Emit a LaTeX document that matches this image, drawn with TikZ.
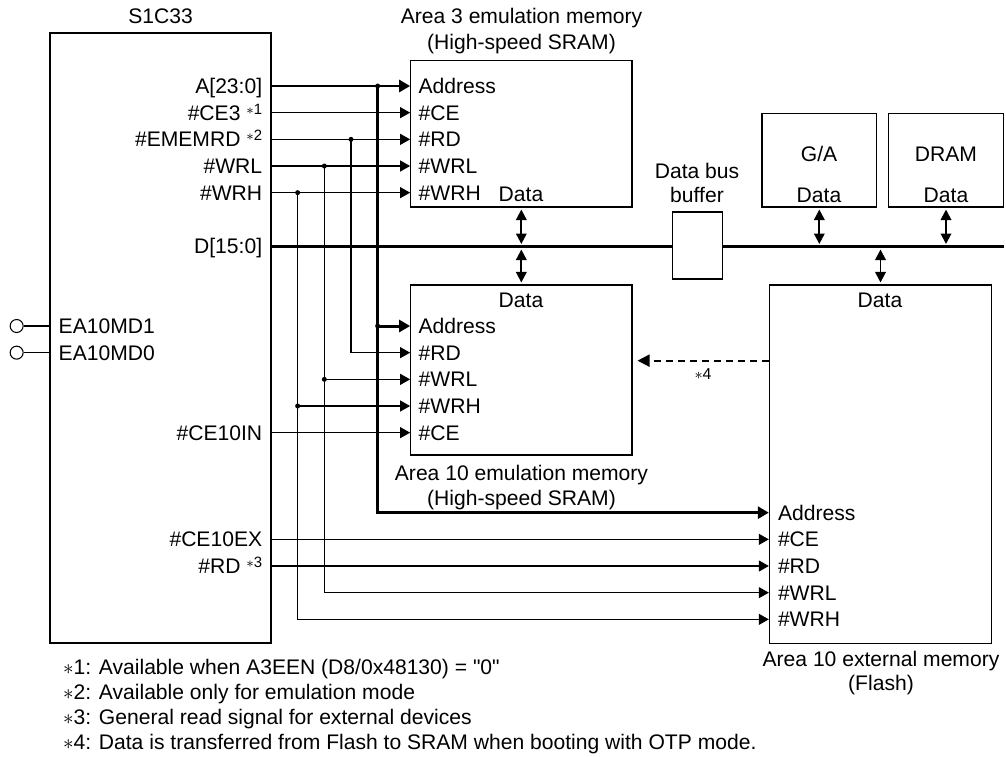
\documentclass[tikz,border=0pt]{standalone}
\usepackage{fontspec}
\setmainfont{Liberation Sans}
\newfontfamily\qfont{Liberation Sans}
\usepackage{tikz}
\usetikzlibrary{arrows.meta,calc,positioning}

\newcommand{\fnmark}[1]{\raisebox{3.4pt}{\fontsize{8.5}{10}\selectfont$\ast$#1}}
\newcommand{\notesz}{\fontsize{9}{10}\selectfont}

\tikzset{
  lbl/.style={inner sep=0pt, text height=0.3cm, text depth=0pt},
  blk/.style={draw, line width=0.6pt, inner sep=0pt},
  pinc/.style={circle, draw, line width=0.6pt, text height=0pt, minimum size=0.26cm},
  sig/.style={line width=0.6pt, -{Triangle[length=0.2cm,width=0.22cm]}},
  bus/.style={line width=1.7pt},
  busarr/.style={bus, -{Triangle[length=0.22cm,width=0.24cm]}},
  dbl/.style={line width=1.1pt, {Triangle[length=0.21cm,width=0.21cm]}-{Triangle[length=0.21cm,width=0.21cm]}},
}

\begin{document}
\begin{tikzpicture}[font=\fontsize{12}{14}\selectfont, every node/.style={lbl}]
  \useasboundingbox (0,0) rectangle (20.12,-15.12);

  % S1C33 chip
  \node[blk, minimum width=4.42cm, minimum height=12.2cm] (chip) at (3.21,-6.76) {};
  \node (chipt) at (3.21,-0.32) {S1C33};

  % chip pins, right side
  \node[anchor=east] (pA) at (5.25,-1.72) {A[23:0]};
  \node[anchor=east] (pCE3) at (5.25,-2.253) {\#CE3 \fnmark{1}};
  \node[anchor=east] (pEMRD) at (5.25,-2.787) {\#EMEMRD \fnmark{2}};
  \node[anchor=east] (pWRL) at (5.25,-3.32) {\#WRL};
  \node[anchor=east] (pWRH) at (5.25,-3.853) {\#WRH};
  \node[anchor=east] (pD) at (5.25,-4.92) {D[15:0]};
  \node[anchor=east] (pCEIN) at (5.25,-8.653) {\#CE10IN};
  \node[anchor=east] (pCEEX) at (5.25,-10.787) {\#CE10EX};
  \node[anchor=east] (pRD) at (5.25,-11.32) {\#RD \fnmark{3}};

  % chip pins, left side (mode inputs)
  \node[anchor=west] (pMD1) at (1.167,-6.52) {EA10MD1};
  \node[anchor=west] (pMD0) at (1.167,-7.053) {EA10MD0};
  \node[pinc] (cMD1) at (0.333,-6.52) {};
  \node[pinc] (cMD0) at (0.333,-7.053) {};
  \draw[line width=0.6pt] (cMD1) -- (chip.west |- cMD1);
  \draw[line width=0.6pt] (cMD0) -- (chip.west |- cMD0);

  % Area 3 emulation memory
  \node[blk, minimum width=4.427cm, minimum height=2.927cm] (a3) at (10.4265,-2.6765) {};
  \node (a3t1) at (10.43,-0.32) {Area 3 emulation memory};
  \node (a3t2) at (10.43,-0.84) {(High-speed SRAM)};
  \node[anchor=west] (a3A) at (8.366,-1.72) {Address};
  \node[anchor=west] (a3CE) at (8.366,-2.253) {\#CE};
  \node[anchor=west] (a3RD) at (8.366,-2.787) {\#RD};
  \node[anchor=west] (a3WRL) at (8.366,-3.32) {\#WRL};
  \node[anchor=west] (a3WRH) at (8.366,-3.853) {\#WRH};
  \node (a3D) at (10.42,-3.87) {Data};

  % Area 10 emulation memory
  \node[blk, minimum width=4.427cm, minimum height=3.4cm] (a10) at (10.4265,-7.4) {};
  \node (a10D) at (10.42,-6.0) {Data};
  \node[anchor=west] (a10A) at (8.366,-6.52) {Address};
  \node[anchor=west] (a10RD) at (8.366,-7.053) {\#RD};
  \node[anchor=west] (a10WRL) at (8.366,-7.587) {\#WRL};
  \node[anchor=west] (a10WRH) at (8.366,-8.12) {\#WRH};
  \node[anchor=west] (a10CE) at (8.366,-8.653) {\#CE};
  \node (a10t1) at (10.43,-9.46) {Area 10 emulation memory};
  \node (a10t2) at (10.43,-9.96) {(High-speed SRAM)};

  % data bus buffer, G/A, DRAM
  \node[blk, fill=white, minimum width=1cm, minimum height=1.34cm] (buf) at (13.953,-4.91) {};
  \node (buft1) at (13.94,-3.42) {Data bus};
  \node (buft2) at (13.94,-3.9) {buffer};
  \node[blk, minimum width=2.293cm, minimum height=1.867cm] (ga) at (16.3865,-3.2065) {};
  \node (gat) at (16.38,-3.08) {G/A};
  \node (gaD) at (16.38,-3.9) {Data};
  \node[blk, minimum width=2.294cm, minimum height=1.867cm] (dram) at (18.92,-3.2065) {};
  \node (dramt) at (18.92,-3.08) {DRAM};
  \node (dramD) at (18.92,-3.9) {Data};

  % Area 10 external memory (Flash)
  \node[blk, minimum width=4.446cm, minimum height=7.167cm] (flash) at (17.61,-9.2835) {};
  \node (flD) at (17.6,-6.0) {Data};
  \node[anchor=west] (flA) at (15.553,-10.253) {Address};
  \node[anchor=west] (flCE) at (15.553,-10.787) {\#CE};
  \node[anchor=west] (flRD) at (15.553,-11.32) {\#RD};
  \node[anchor=west] (flWRL) at (15.553,-11.853) {\#WRL};
  \node[anchor=west] (flWRH) at (15.553,-12.387) {\#WRH};
  \node (flt1) at (17.62,-13.18) {Area 10 external memory};
  \node (flt2) at (17.62,-13.66) {(Flash)};

  % vertical branch lines
  \coordinate (vA) at (7.553,0);
  \coordinate (vRD) at (7.02,0);
  \coordinate (vWRL) at (6.487,0);
  \coordinate (vWRH) at (5.953,0);

  % address bus
  \draw[busarr] (chip.east |- pA) -- (a3.west |- a3A);
  \draw[busarr] (vA |- pA) -- (vA |- flA) -- (flash.west |- flA);
  \draw[busarr] (vA |- a10A) -- (a10.west |- a10A);

  % control lines
  \draw[sig] (chip.east |- pCE3) -- (a3.west |- a3CE);
  \draw[sig] (chip.east |- pEMRD) -- (a3.west |- a3RD);
  \draw[sig] (vRD |- pEMRD) -- (vRD |- a10RD) -- (a10.west |- a10RD);
  \draw[sig] (chip.east |- pWRL) -- (a3.west |- a3WRL);
  \draw[sig] (vWRL |- pWRL) -- (vWRL |- flWRL) -- (flash.west |- flWRL);
  \draw[sig] (vWRL |- a10WRL) -- (a10.west |- a10WRL);
  \draw[sig] (chip.east |- pWRH) -- (a3.west |- a3WRH);
  \draw[sig] (vWRH |- pWRH) -- (vWRH |- flWRH) -- (flash.west |- flWRH);
  \draw[sig] (vWRH |- a10WRH) -- (a10.west |- a10WRH);
  \draw[sig] (chip.east |- pCEIN) -- (a10.west |- a10CE);
  \draw[sig] (chip.east |- pCEEX) -- (flash.west |- flCE);
  \draw[sig] (chip.east |- pRD) -- (flash.west |- flRD);

  % junction dots
  \foreach \v/\r in {vA/pA, vA/a10A, vRD/pEMRD, vWRL/pWRL, vWRL/a10WRL, vWRH/pWRH, vWRH/a10WRH}
    \fill (\v |- \r) circle (0.05);

  % data bus
  \draw[bus] (chip.east |- pD) -- (buf.west |- pD);
  \draw[bus] (buf.east |- pD) -- (dram.east |- pD);
  \draw[dbl, shorten <=0.04cm, shorten >=0.04cm] (a3.south) -- (a3.south |- pD);
  \draw[dbl, shorten <=0.07cm, shorten >=0.04cm] (a10.north |- pD) -- (a10.north);
  \draw[dbl, shorten <=0.04cm, shorten >=0.04cm] (ga.south) -- (ga.south |- pD);
  \draw[dbl, shorten <=0.04cm, shorten >=0.04cm] (dram.south) -- (dram.south |- pD);
  \draw[dbl, shorten <=0.07cm, shorten >=0.04cm] (flash.north |- pD) -- (flash.north);

  % boot transfer Flash -> SRAM
  \coordinate (xfer) at (0,-7.213);
  \draw[line width=1.1pt, dash pattern=on 0.14cm off 0.1cm, -{Triangle[length=0.24cm,width=0.24cm]}]
    (flash.west |- xfer) -- ([xshift=0.1cm]a10.east |- xfer);
  \node (n4) at (14.06,-7.44) {\notesz$\ast$4};

  % notes
  \node[anchor=west] (fn1) at (1.253,-13.34) {$\ast$1: Available when A3EEN (D8/0x48130) = {\qfont"0"}};
  \node[anchor=west] (fn2) at (1.253,-13.84) {$\ast$2: Available only for emulation mode};
  \node[anchor=west] (fn3) at (1.253,-14.34) {$\ast$3: General read signal for external devices};
  \node[anchor=west] (fn4) at (1.253,-14.84) {$\ast$4: Data is transferred from Flash to SRAM when booting with OTP mode.};
\end{tikzpicture}
\end{document}
